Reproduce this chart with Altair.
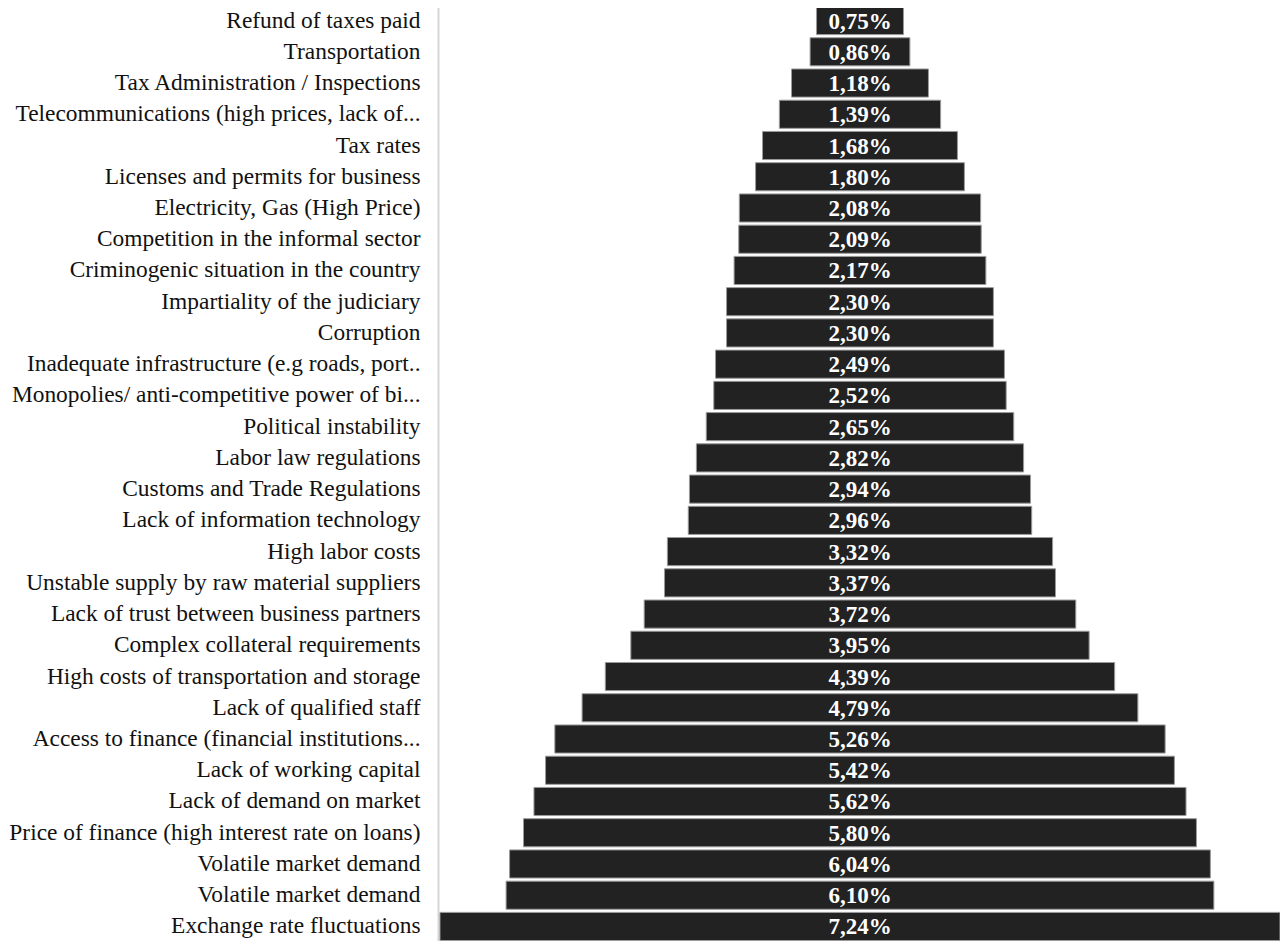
import altair as alt
import pandas as pd

categories = [
    "Refund of taxes paid",
    "Transportation",
    "Tax Administration / Inspections",
    "Telecommunications (high prices, lack of...",
    "Tax rates",
    "Licenses and permits for business",
    "Electricity, Gas (High Price)",
    "Competition in the informal sector",
    "Criminogenic situation in the country",
    "Impartiality of the judiciary",
    "Corruption",
    "Inadequate infrastructure (e.g roads, port..",
    "Monopolies/ anti-competitive power of bi...",
    "Political instability",
    "Labor law regulations",
    "Customs and Trade Regulations",
    "Lack of information technology",
    "High labor costs",
    "Unstable supply by raw material suppliers",
    "Lack of trust between business partners",
    "Complex collateral requirements",
    "High costs of transportation and storage",
    "Lack of qualified staff",
    "Access to finance (financial institutions...",
    "Lack of working capital",
    "Lack of demand on market",
    "Price of finance (high interest rate on loans)",
    "Volatile market demand",
    "Volatile market demand",
    "Exchange rate fluctuations",
]
values = [0.75, 0.86, 1.18, 1.39, 1.68, 1.80, 2.08, 2.09, 2.17, 2.30, 2.30,
          2.49, 2.52, 2.65, 2.82, 2.94, 2.96, 3.32, 3.37, 3.72, 3.95, 4.39,
          4.79, 5.26, 5.42, 5.62, 5.80, 6.04, 6.10, 7.24]

df = pd.DataFrame({
    "idx": list(range(len(categories))),
    "key": [f"{i:02d}|{c}" for i, c in enumerate(categories)],
    "v": values,
})
df["lo"] = -df["v"] / 2
df["hi"] = df["v"] / 2

vmax = max(values)
FONT = "Liberation Serif"

y_enc = alt.Y(
    "key:N",
    sort=alt.EncodingSortField(field="idx", order="ascending"),
    scale=alt.Scale(paddingInner=0.1, paddingOuter=0),
    axis=alt.Axis(
        title=None,
        labelExpr="split(datum.label, '|')[1]",
        labelFont=FONT,
        labelFontSize=23.4,
        labelColor="#111",
        labelPadding=18,
        labelLimit=0,
        ticks=False,
        domain=True,
        domainColor="#d6d6d6",
        domainWidth=2,
        grid=False,
    ),
)
x_scale = alt.Scale(domain=[-vmax / 2 - 0.017, vmax / 2], nice=False, zero=False)

base = alt.Chart(df)

bars = base.mark_bar(color="#222222", stroke="#9a9a9a", strokeWidth=1).encode(
    y=y_enc,
    x=alt.X("lo:Q", scale=x_scale, axis=None),
    x2="hi:Q",
)

text = base.transform_calculate(
    lab="replace(format(datum.v, '.2f'), '.', ',') + '%'"
).mark_text(
    color="white", font=FONT, fontSize=23, fontWeight="bold", baseline="middle", dy=1
).encode(
    y=alt.Y("key:N", sort=alt.EncodingSortField(field="idx", order="ascending")),
    x=alt.value(422),
    text="lab:N",
)

chart = alt.layer(bars, text).properties(
    width=842,
    height=934,
    autosize=alt.AutoSizeParams(type="none"),
    padding={"left": 430, "top": -1.5, "right": 0, "bottom": 0},
).configure_view(stroke=None)

chart.save("out.html", embed_options={"renderer": "svg", "actions": False})
